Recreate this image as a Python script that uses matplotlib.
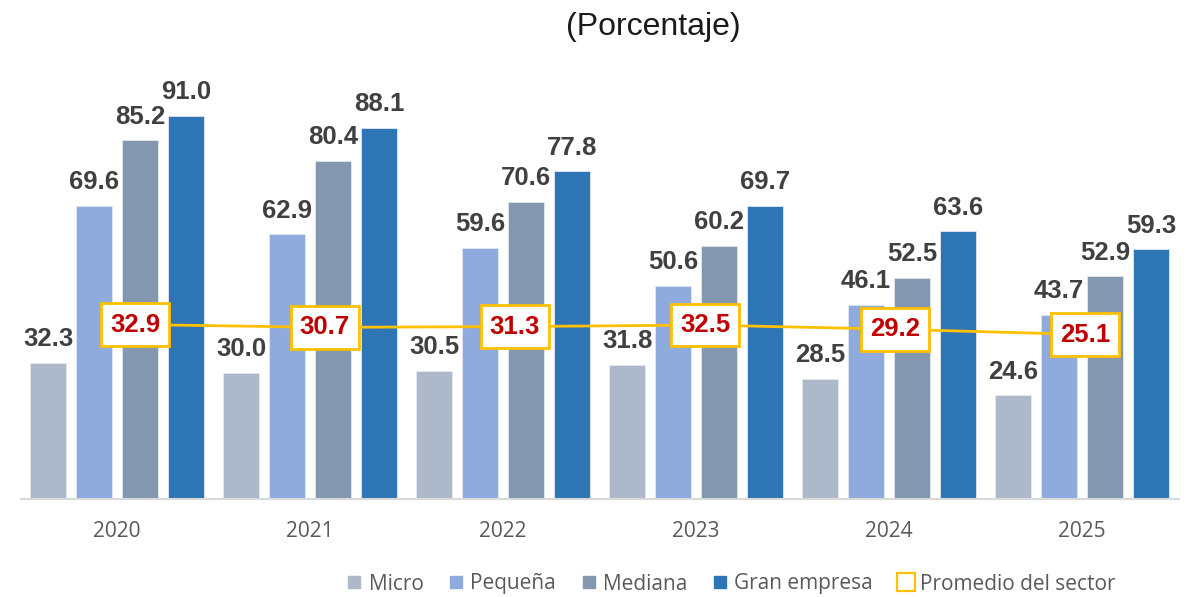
import matplotlib
matplotlib.use("Agg")
import matplotlib.pyplot as plt
from matplotlib.lines import Line2D
import numpy as np

years = ["2020", "2021", "2022", "2023", "2024", "2025"]
micro = [32.3, 30.0, 30.5, 31.8, 28.5, 24.6]
pequena = [69.6, 62.9, 59.6, 50.6, 46.1, 43.7]
mediana = [85.2, 80.4, 70.6, 60.2, 52.5, 52.9]
gran = [91.0, 88.1, 77.8, 69.7, 63.6, 59.3]
promedio = [32.9, 30.7, 31.3, 32.5, 29.2, 25.1]
series_names = ["Micro", "Pequeña", "Mediana", "Gran empresa"]
line_name = "Promedio del sector"
title = "(Porcentaje)"

colors = ["#ADB9CA", "#8FAADC", "#8497B0", "#2E75B6"]
line_color = "#FFC000"
label_color = "#404040"
red = "#C00000"
gray_txt = "#595959"

fig = plt.figure(figsize=(11.96, 5.97), dpi=100)
ax = fig.add_axes([20.5 / 1196, 1 - 499 / 597, 1158 / 1196, 421 / 597])

x = np.arange(len(years))
width = 0.19
step = 0.238
all_series = [micro, pequena, mediana, gran]
for k, (vals, col) in enumerate(zip(all_series, colors)):
    xs = x + (k - 1.5) * step
    ax.bar(xs, vals, width=width, color=col, edgecolor="#E3E8F0", linewidth=0.6, zorder=2)
    for xi, v in zip(xs, vals):
        ax.annotate(f"{v:.1f}", xy=(xi, v), xytext=(0, 12), textcoords="offset points",
                    ha="center", va="baseline", fontsize=18.5, fontweight="bold",
                    color=label_color, family="Liberation Sans", zorder=5)

ax.set_xlim(-0.5, 5.5)
ax.set_ylim(0, 100)
ax.set_xticks(x)
ax.set_xticklabels(years, fontsize=15, color=gray_txt, family="Open Sans")
ax.tick_params(axis="x", length=0, pad=16)
ax.set_yticks([])
for s in ["top", "right", "left"]:
    ax.spines[s].set_visible(False)
ax.spines["bottom"].set_color("#D9D9D9")
ax.spines["bottom"].set_linewidth(1.5)
ax.patch.set_alpha(0)

# secondary axis for the sector average line
ax2 = ax.twinx()
ax2.set_ylim(-103.4, 225.5)
ax2.set_xlim(-0.5, 5.5)
ax2.axis("off")
line_x = x * 0.9846 + 0.093
ax2.plot(line_x, promedio, color=line_color, linewidth=2.0, zorder=3)
for xi, v in zip(line_x, promedio):
    ax2.text(xi, v, f"{v:.1f}", ha="center", va="center", fontsize=18.5, fontweight="bold",
             color=red, family="Liberation Sans", zorder=6,
             bbox=dict(boxstyle="square,pad=0.36", facecolor="white", edgecolor=line_color, linewidth=2.0))

fig.text(653 / 1196, 1 - 35 / 597, title, ha="center", va="baseline", fontsize=23,
         color="#1A1A1A", family="Liberation Sans")

handles = [Line2D([], [], linestyle="none", marker="s", markersize=9, markerfacecolor=c,
                  markeredgecolor=c) for c in colors]
handles.append(Line2D([], [], linestyle="none", marker="s", markersize=13, markerfacecolor="white",
                      markeredgecolor=line_color, markeredgewidth=1.6))
leg = fig.legend(handles, series_names + [line_name], loc="center", bbox_to_anchor=(731 / 1196, 1 - 584 / 597),
                 ncol=5, frameon=False, handlelength=0.75, handletextpad=0.3, columnspacing=1.2,
                 prop={"family": "Open Sans", "size": 15})
for t in leg.get_texts():
    t.set_color(gray_txt)

fig.savefig("out.png", dpi=100)
